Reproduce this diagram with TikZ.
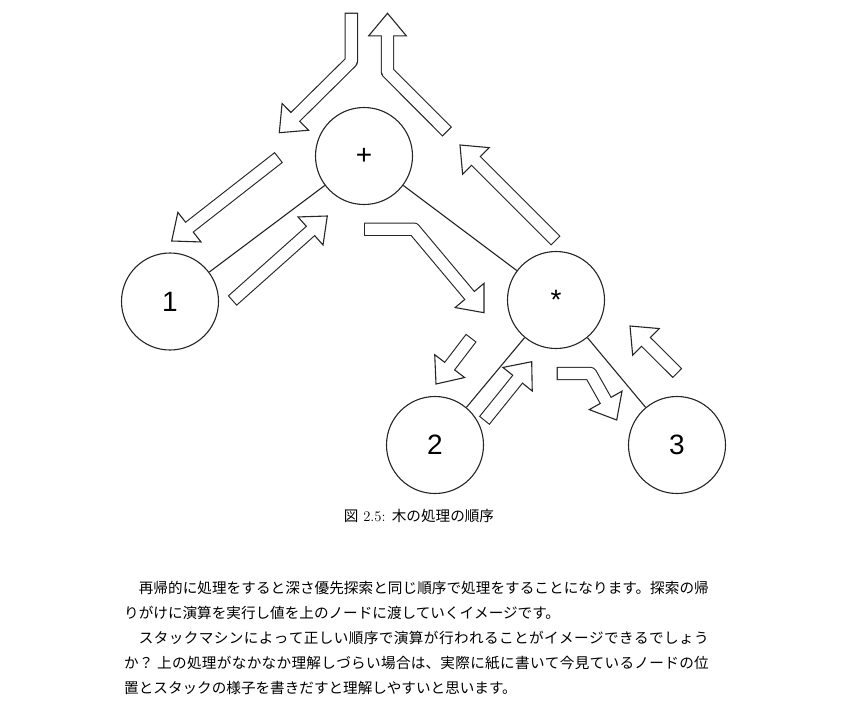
\documentclass[tikz,border=0pt]{standalone}
\usepackage{fontspec}
\newfontfamily\cjk{Noto Sans CJK JP}
\newfontfamily\arial{Liberation Sans}
\XeTeXlinebreaklocale "ja"
\XeTeXlinebreakskip=0pt plus 1pt
\usepackage{xcolor}
\usepackage{tikz}
\usetikzlibrary{
    calc
}
\definecolor{linegray}{gray}{0.15}
\tikzstyle{vertex} = [
    circle, draw=linegray,
    line width=1.1pt,
    minimum size=97pt,
    inner sep=0pt,
    font=\arial\fontsize{28}{32}\selectfont
]
\tikzstyle{edge} = [
    draw=linegray,
    line width=1.1pt
]
\tikzstyle{shaftout} = [
    draw=linegray,
    line width=13.4pt,
    line join=round
]
\tikzstyle{shaftin} = [
    draw=white,
    line width=11.2pt,
    line join=round,
    shorten <=1.1pt
]
\tikzstyle{headtip} = [
    fill=white, draw=linegray,
    line width=1.1pt,
    line join=miter
]
\tikzstyle{textline} = [
    anchor=west, inner sep=0pt,
    font=\cjk\fontsize{14.6}{18}\selectfont
]
\newcommand{\flowarrow}[3]{%
    \coordinate (fabase) at ($(#3)!22.5pt!(#2)$);
    \path[headtip] ($(fabase)!18.8pt!90:(#3)$) -- (#3)
        -- ($(fabase)!18.8pt!-90:(#3)$) -- cycle;
    \draw[shaftout] #1 (#2) -- (fabase);
    \draw[shaftin] #1 (#2) -- ($(fabase)!1.5pt!(#3)$);
}
\newcommand{\fullline}[2]{\parbox{#1}{\parfillskip=0pt #2}}

\begin{document}
\begin{tikzpicture}[x=1pt, y=-1pt]
    \fill[white] (0,0) rectangle (843,707);

    \node[vertex] (plus)  at (364,156)   {+};
    \node[vertex] (one)   at (170,301.5) {1};
    \node[vertex] (times) at (556,300)   {*};
    \node[vertex] (two)   at (435,445)   {2};
    \node[vertex] (three) at (677,445)   {3};

    \draw[edge] (plus) -- (one);
    \draw[edge] (plus) -- (times);
    \draw[edge] (times) -- (two);
    \draw[edge] (times) -- (three);

    \flowarrow{(351.3,12.7) --}{351.3,61.5}{279.3,132.7}
    \flowarrow{(447.2,131.8) --}{387.5,72}{387.5,13.3}
    \flowarrow{}{278.8,157.3}{171.7,241}
    \flowarrow{}{232.2,300.8}{327.3,216}
    \flowarrow{(364,229.2) --}{414,229.2}{484,312.7}
    \flowarrow{}{555.8,240.8}{460,145}
    \flowarrow{}{471.3,337.8}{436,384}
    \flowarrow{}{484.2,420.7}{531.7,361.7}
    \flowarrow{(556.7,373.5) --}{590.5,373.5}{616.7,420}
    \flowarrow{}{677.5,373.3}{630,326}

    \node[textline, anchor=center, font=\fontsize{14.6}{18}\selectfont] (caption) at (419,516)
        {{\cjk 図} 2.5: {\cjk 木の処理の順序}};

    \node[textline] (line1) at (138.6,588)
        {\fullline{570pt}{再帰的に処理をすると深さ優先探索と同じ順序で処理をすることになります。探索の帰}};
    \node[textline] (line2) at (124,613)
        {りがけに演算を実行し値を上のノードに渡していくイメージです。};
    \node[textline] (line3) at (138.6,638)
        {\fullline{570pt}{スタックマシンによって正しい順序で演算が行われることがイメージできるでしょう}};
    \node[textline] (line4) at (124,663)
        {\fullline{584.6pt}{か？ 上の処理がなかなか理解しづらい場合は、実際に紙に書いて今見ているノードの位}};
    \node[textline] (line5) at (124,688)
        {置とスタックの様子を書きだすと理解しやすいと思います。};
\end{tikzpicture}
\end{document}
